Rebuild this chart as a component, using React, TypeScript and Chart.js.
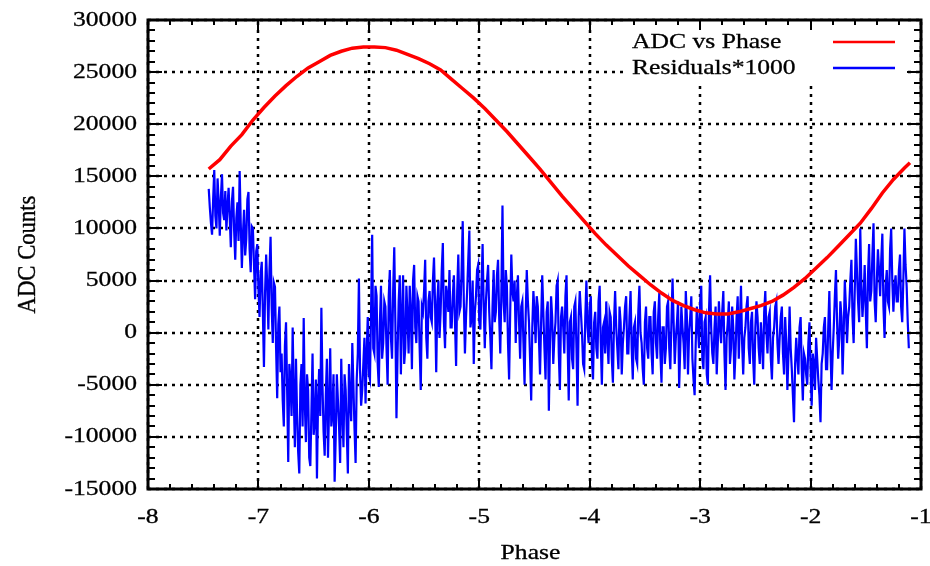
import React, { useEffect, useRef } from 'react';
import { Chart, registerables } from 'chart.js';

Chart.register(...registerables);

// ---------- data ----------
const RED_PHASE = [
  -7.45, -7.35, -7.25, -7.15, -7.05, -6.95, -6.85, -6.75, -6.65, -6.55,
  -6.45, -6.35, -6.25, -6.15, -6.05, -5.95, -5.85, -5.75, -5.65, -5.55,
  -5.45, -5.35, -5.25, -5.15, -5.05, -4.95, -4.85, -4.75, -4.65, -4.55,
  -4.45, -4.35, -4.25, -4.15, -4.05, -3.95, -3.85, -3.75, -3.65, -3.55,
  -3.45, -3.35, -3.25, -3.15, -3.05, -2.95, -2.85, -2.75, -2.65, -2.55,
  -2.45, -2.35, -2.25, -2.15, -2.05, -1.95, -1.85, -1.75, -1.65, -1.55,
  -1.45, -1.35, -1.25, -1.15, -1.1,
];
const RED_ADC = [
  15700, 16600, 17900, 19000, 20400, 21600, 22700, 23700, 24600, 25400,
  26000, 26600, 27000, 27300, 27400, 27400, 27350, 27100, 26700, 26300,
  25800, 25200, 24300, 23400, 22500, 21500, 20400, 19300, 18100, 16900,
  15700, 14400, 13100, 11900, 10700, 9500, 8400, 7400, 6400, 5500,
  4600, 3800, 3100, 2600, 2200, 1900, 1800, 1800, 2000, 2300,
  2600, 3000, 3600, 4350, 5200, 6200, 7200, 8300, 9400, 10500,
  11900, 13400, 14700, 15800, 16300,
];

const BLUE_START = -7.45;
const BLUE_STEP = 0.01;
const BLUE_RESID = [
  13800, 12000, 10500, 9400, 12800, 15600, 11200, 10000, 14800, 12500, 9300, 13000, 15200, 11500, 10800, 13600, 9800, 12200, 13900, 11000,
  8200, 12600, 14000, 9800, 7000, 11000, 12500, 8800, 15500, 10500, 6200, 9500, 11800, 7400, 9000, 12800, 13500, 8000, 5800, 10200,
  10000, 6500, 3200, 7800, 8500, 4200, 1500, 5600, 6800, 2000, -3300, 3800, 7500, 4500, 300, 6000, 9200, 2500, -1000, 4800,
  4400, -1500, -6300, 800, 2500, -3800, -2000, -6500, -9000, -1200, 1000, -5500, -12400, -3000, -4500, -8000, 500, -6000, -11000, -2500,
  -7800, -11500, -13500, -5000, -3000, -9000, 1400, -6800, -10500, -4000, -5500, -12000, -12800, -7500, -2000, -9800, -8500, -4500, -14000, -6500,
  -3500, -8000, 2400, -5000, -9500, -11800, -6000, -2500, -12000, -7000, -1500, -9000, -7800, -4000, -14300, -10000, -4000, -6500, -9000, -12500,
  -2500, -7500, -11000, -4000, -5500, -9500, -13500, -3000, -6500, -8500, -1000, -5000, -9200, -12500, -4500, -2000, 5200, -3500, -7000, -5500,
  -3000, -500, -6800, -2000, 1500, -4000, -4500, 2000, 9400, -1500, -2000, 4500, 3500, -3000, -5200, 1000, 4500, -2500, -1000, 3000,
  2500, -1500, -5000, 3500, 6000, -500, -2500, 4000, 8200, 1000, -8200, -2000, 3000, 5500, -4000, 1500, 5500, -3000, -1500, 4500,
  1500, -2000, 4500, 2000, -3500, 5000, 6500, 500, -1000, 3500, 3000, -1500, -5500, 2500, 2000, 4000, 7000, -500, -2500, 3000,
  4000, 1500, 1000, 5000, 7200, 2500, -3800, 3000, 5000, -500, 2000, 6000, 8600, 1000, -1500, 4500, 3500, 2000, 6000, 500,
  500, 3500, 5500, 1000, -3200, 4000, 7500, 2000, 2500, 6000, 10700, 3000, -2000, 1500, 4000, 7000, 9800, 500, 1500, 5000,
  -3000, 2000, 3500, 6000, 6500, 1000, 300, 4500, 8500, 2500, -1500, 3000, 5000, 6500, 2000, -500, -3500, 2500, 6000, 1000,
  2000, 5500, 7000, 1500, -2000, 4000, 12200, 3000, 1000, 6000, 4500, -1000, -4500, 2000, 7500, 4000, 3000, 5000, -1000, 3500,
  5500, 1000, -2500, 2500, 3000, -1000, -5000, 1500, 6000, 3000, 1000, -2500, -6500, 500, 4000, 2000, -1000, 3500, 2500, -500,
  -4000, 1000, 5500, 2000, -1500, -4500, 2000, 3000, -7500, -1000, 3500, 1500, -3000, -500, 1000, 4500, 5000, -2000, -5500, 1500,
  2500, 500, -2000, 3500, 5500, -1000, -6500, 1000, 1500, -2500, -3500, 2500, 3000, -1500, -7000, 1500, 4000, 2000, 0, -3000,
  -3500, 1500, 5000, 500, -1000, 2500, 3500, -2500, -4500, 1000, 2000, -1500, -2500, 3000, 4500, -1000, -5000, 500, 1000, -2000,
  3000, -500, -3000, 2000, 1500, -2500, -4800, 1000, 4000, 500, -1500, -3500, 2500, 1000, -4000, -1000, 500, 2500, 3500, -2000,
  -2000, 1500, 4000, -1500, -4500, 500, 1000, -2500, -3000, 2000, 4500, 0, -1000, -3500, -5000, 1000, 2500, -1500, -2500, 1500,
  1500, -2000, -4000, 2000, 3000, -1000, -2500, 1500, 3800, -2000, -4800, 500, 500, -3000, -1500, 2500, 3000, -1500, -3500, 1000,
  5200, 1000, -3000, -500, 1000, 3000, -5300, -1500, 2500, 500, -1000, -3500, 4000, 1500, -4000, 0, 1500, 3500, -2500, -4500,
  -6000, -1000, 2500, 500, -1500, 3000, 4500, -2500, -3500, 1000, 1500, -4000, -5000, 2000, 5500, 500, -2000, -3000, 500, 2500,
  -4000, -1000, 3000, 500, -1000, 2000, 4000, -2000, -5500, -500, 1000, 3000, -3000, -1500, 2500, 500, -4500, -2000, 1500, 3500,
  -2500, 1000, 4500, -1000, -4000, -500, 500, 2500, 3500, -1500, -3000, 1000, 2000, -2500, -5000, 500, 3000, 1500, -1500, -3000,
  1000, -1000, -3500, 2000, 4000, 0, -2000, 1500, 2000, -2500, -4500, -500, 500, 2500, 3000, -1000, -3000, -500, 1500, 2500,
  -2000, -4000, 1500, -1000, -5500, -2000, 2500, -1500, -3500, -6000, -8600, -3000, -500, -2500, -4000, 500, 1500, -3500, -6500, -2000,
  -2500, -4000, -5000, -1000, 1000, -3500, -7000, -2000, -3000, -5500, -500, -2500, -4500, -6000, -8600, -3000, -2000, 500, 1500, -3500,
  -3500, 500, 4000, -1500, -5500, -2000, 500, 3500, 6000, 1000, -2500, -500, 3000, 1500, -4000, 0, 5000, 2500, -1000, 1500,
  2500, 5000, 7000, 1500, -1000, 4000, 9000, 6000, 3000, 1000, 10000, 4500, 1500, 3500, 6500, 2000, -1500, 5500, 8500, 3000,
  4000, 7500, 10500, 3000, 1000, 5000, 8000, 6000, 3500, 7000, 9500, 2500, -500, 4500, 6000, 3000, 2500, 8000, 10000, 5000,
  2000, 4500, 5500, 3000, 3000, 6000, 7500, 2500, 1000, 5000, 10000, 6500, 4500, 1000, -1500,
];

const X_MIN = -8;
const X_MAX = -1;
const Y_MIN = -15000;
const Y_MAX = 30000;
const X_MAJOR = [-8, -7, -6, -5, -4, -3, -2, -1];
const Y_MAJOR = [-15000, -10000, -5000, 0, 5000, 10000, 15000, 20000, 25000, 30000];
const X_MINOR_PER_MAJOR = 5;
const Y_MINOR_PER_MAJOR = 5;

const X_TITLE = 'Phase';
const Y_TITLE = 'ADC Counts';
const SERIES_NAMES = ['ADC vs Phase', 'Residuals*1000'];
const SERIES_COLORS = ['#ff0000', '#0000ff'];

// ---------- styling ----------
const FONT = '21px "Liberation Serif", "Times New Roman", serif';
const STRETCH = 1.22;

function paintText(ctx: CanvasRenderingContext2D, text: string) {
  ctx.font = FONT;
  ctx.fillStyle = '#000';
  ctx.strokeStyle = '#000';
  ctx.lineWidth = 0.3;
  ctx.fillText(text, 0, 0);
  ctx.strokeText(text, 0, 0);
}

function drawText(
  ctx: CanvasRenderingContext2D,
  text: string,
  x: number,
  y: number,
  align: CanvasTextAlign,
) {
  ctx.save();
  ctx.translate(x, y);
  ctx.scale(STRETCH, 1);
  ctx.textAlign = align;
  ctx.textBaseline = 'middle';
  paintText(ctx, text);
  ctx.restore();
}

const gnuplotLook = {
  id: 'gnuplotLook',
  beforeDatasetsDraw(chart: any) {
    const { ctx, chartArea: a, scales } = chart;
    const xs = scales.x;
    const ys = scales.y;
    ctx.save();
    ctx.strokeStyle = '#000';
    ctx.lineWidth = 2.5;
    ctx.setLineDash([3, 5]);
    for (const v of X_MAJOR) {
      const px = Math.round(xs.getPixelForValue(v));
      ctx.beginPath();
      ctx.moveTo(px, a.bottom);
      ctx.lineTo(px, a.top);
      ctx.stroke();
    }
    for (const v of Y_MAJOR) {
      const py = Math.round(ys.getPixelForValue(v));
      ctx.beginPath();
      ctx.moveTo(a.left, py);
      ctx.lineTo(a.right, py);
      ctx.stroke();
    }
    ctx.setLineDash([]);
    // opaque key box
    ctx.fillStyle = '#fff';
    ctx.fillRect(623, a.top, 903 - 623, 82 - a.top);
    ctx.restore();
  },
  afterDraw(chart: any) {
    const { ctx, chartArea: a, scales } = chart;
    const xs = scales.x;
    const ys = scales.y;
    ctx.save();
    ctx.strokeStyle = '#000';
    ctx.lineWidth = 2;
    // x ticks (top & bottom)
    for (let i = 0; i < X_MAJOR.length - 1; i++) {
      for (let k = 0; k < X_MINOR_PER_MAJOR; k++) {
        const v = X_MAJOR[i] + ((X_MAJOR[i + 1] - X_MAJOR[i]) * k) / X_MINOR_PER_MAJOR;
        const px = Math.round(xs.getPixelForValue(v));
        const len = k === 0 ? 10 : 5;
        ctx.beginPath();
        ctx.moveTo(px, a.bottom);
        ctx.lineTo(px, a.bottom - len);
        ctx.moveTo(px, a.top);
        ctx.lineTo(px, a.top + len);
        ctx.stroke();
      }
    }
    // y ticks (left & right)
    for (let i = 0; i < Y_MAJOR.length - 1; i++) {
      for (let k = 0; k < Y_MINOR_PER_MAJOR; k++) {
        const v = Y_MAJOR[i] + ((Y_MAJOR[i + 1] - Y_MAJOR[i]) * k) / Y_MINOR_PER_MAJOR;
        const py = Math.round(ys.getPixelForValue(v));
        const len = k === 0 ? 14 : 7;
        ctx.beginPath();
        ctx.moveTo(a.left, py);
        ctx.lineTo(a.left + len, py);
        ctx.moveTo(a.right, py);
        ctx.lineTo(a.right - len, py);
        ctx.stroke();
      }
    }
    // border
    ctx.lineWidth = 3;
    ctx.strokeRect(a.left, a.top, a.right - a.left, a.bottom - a.top);

    // tick labels
    for (const v of X_MAJOR) {
      drawText(ctx, String(v), xs.getPixelForValue(v), a.bottom + 28, 'center');
    }
    for (const v of Y_MAJOR) {
      drawText(ctx, String(v), a.left - 11, ys.getPixelForValue(v), 'right');
    }
    // axis titles
    drawText(ctx, X_TITLE, (a.left + a.right) / 2 - 4, 553, 'center');
    ctx.save();
    ctx.translate(28, (a.top + a.bottom) / 2);
    ctx.rotate(-Math.PI / 2);
    ctx.scale(1.08, STRETCH);
    ctx.textAlign = 'center';
    ctx.textBaseline = 'middle';
    paintText(ctx, Y_TITLE);
    ctx.restore();

    // key
    const rows = [42, 68];
    SERIES_NAMES.forEach((name, i) => {
      drawText(ctx, name, 632, rows[i], 'left');
      ctx.strokeStyle = SERIES_COLORS[i];
      ctx.lineWidth = 2.5;
      ctx.beginPath();
      ctx.moveTo(833, rows[i]);
      ctx.lineTo(895, rows[i]);
      ctx.stroke();
    });
    ctx.restore();
  },
};

export default function App() {
  const ref = useRef<HTMLCanvasElement>(null);
  useEffect(() => {
    document.body.style.margin = '0';
    const redData = RED_PHASE.map((x, i) => ({ x, y: RED_ADC[i] }));
    const blueData = BLUE_RESID.map((y, i) => ({ x: BLUE_START + i * BLUE_STEP, y }));
    const chart = new Chart(ref.current as HTMLCanvasElement, {
      type: 'line',
      data: {
        datasets: [
          {
            label: SERIES_NAMES[0],
            data: redData,
            borderColor: SERIES_COLORS[0],
            borderWidth: 3.5,
            pointRadius: 0,
            tension: 0,
            fill: false,
          },
          {
            label: SERIES_NAMES[1],
            data: blueData,
            borderColor: SERIES_COLORS[1],
            borderWidth: 2.2,
            pointRadius: 0,
            tension: 0,
            fill: false,
          },
        ],
      },
      options: {
        responsive: false,
        animation: false,
        devicePixelRatio: 1,
        layout: { padding: { left: 0, right: 9, top: 20, bottom: 0 } },
        plugins: { legend: { display: false }, tooltip: { enabled: false } },
        scales: {
          x: {
            type: 'linear',
            min: X_MIN,
            max: X_MAX,
            ticks: { display: false, stepSize: 1 },
            grid: { display: false },
            border: { display: false },
            afterFit: (s: any) => {
              s.height = 77;
            },
          },
          y: {
            type: 'linear',
            min: Y_MIN,
            max: Y_MAX,
            ticks: { display: false, stepSize: 5000 },
            grid: { display: false },
            border: { display: false },
            afterFit: (s: any) => {
              s.width = 148;
            },
          },
        },
      },
      plugins: [gnuplotLook],
    });
    return () => chart.destroy();
  }, []);
  return <canvas ref={ref} width={930} height={566} style={{ display: 'block' }} />;
}
